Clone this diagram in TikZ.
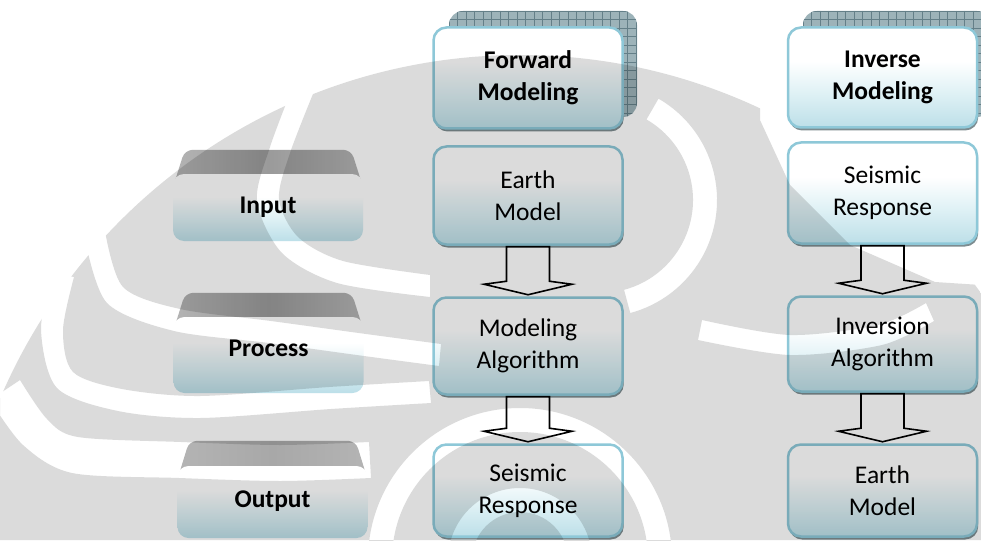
\documentclass[tikz,border=0pt]{standalone}
\usepackage{fontspec}
\setmainfont{Carlito}
\usetikzlibrary{calc,shadows,backgrounds}

\definecolor{boxblue}{HTML}{BCDFE8}
\definecolor{boxmid}{HTML}{DFF1F5}
\definecolor{boxedge}{HTML}{8EC8D8}
\definecolor{gridfill}{HTML}{9DB3B9}
\definecolor{gridline}{HTML}{647F88}
\definecolor{capgray}{HTML}{9A9A9A}
\definecolor{capedge}{HTML}{B4B4B4}
\definecolor{capgraylight}{HTML}{A8A8A8}
\definecolor{shadowgray}{HTML}{7D8C90}

% glossy white-to-blue fill used by all boxes
\pgfdeclareverticalshading{glassy}{100bp}{color(0bp)=(boxblue); color(25bp)=(boxblue); color(42bp)=(boxmid); color(58bp)=(white); color(100bp)=(white)}

\newcommand\boxfont{\fontsize{25.5}{32}\selectfont}

% outlined block arrow from the bottom of one box to the top of the next
\newcommand\blockarrow[2]{%
  \draw[blockarr] let \p1=(#1.south), \p2=(#2.north) in
    (\x1-21.5pt,\y1-1pt) -- (\x1-21.5pt,\y2+15pt) -- (\x1-44pt,\y2+12pt)
    -- (\x1,\y2+1.5pt) -- (\x1+44pt,\y2+12pt) -- (\x1+21.5pt,\y2+15pt)
    -- (\x1+21.5pt,\y1-1pt) -- cycle;}

\tikzset{
  colbox/.style={shade, shading=glassy, draw=boxedge, line width=2.5pt,
    rounded corners=13pt, minimum width=189pt, inner sep=0pt, align=center,
    font=\boxfont,
    general shadow={fill=shadowgray, shadow xshift=1.2pt, shadow yshift=-3pt}},
  headbox/.style={colbox, font=\boxfont\bfseries},
  backbox/.style={fill=gridfill, rounded corners=14pt, minimum width=188pt,
    minimum height=106pt, inner sep=0pt,
    path picture={
      \foreach \k in {0,...,24}{
        \draw[gridline, line width=0.6pt]
          ([xshift=\k*8.5pt]path picture bounding box.north west) --
          ([xshift=\k*8.5pt]path picture bounding box.south west);
        \draw[gridline, line width=0.6pt]
          ([yshift=-\k*8.5pt]path picture bounding box.north west) --
          ([yshift=-\k*8.5pt]path picture bounding box.north east);
      }}},
  capface/.style={shade, shading=glassy, rounded corners=11pt, inner sep=0pt,
    minimum width=190pt, font=\boxfont\bfseries},
  blockarr/.style={draw=black, fill=white, line width=1.6pt, line join=miter},
  watermark/.style={fill=black, opacity=0.14, even odd rule}
}

\begin{document}
\begin{tikzpicture}[x=1pt,y=-1pt]
\useasboundingbox (0,0) rectangle (981,540);

% gridded backing plates behind the column headers
\node[backbox] (fwdback) at (543,64) {};
\node[backbox] (invback) at (897,64) {};

% column headers
\node[headbox, minimum height=101pt] (fwd) at (528,78) {Forward\\Modeling};
\node[headbox, minimum height=100pt] (inv) at (882.5,77.5) {Inverse\\Modeling};

% forward modeling column
\node[colbox, minimum height=98pt] (em1) at (528,195.5) {Earth\\Model};
\node[colbox, minimum height=97pt] (ma1) at (528,346) {Modeling\\Algorithm};
\node[colbox, minimum height=92pt] (sr1) at (528,490.5) {Seismic\\Response};

% inverse modeling column
\node[colbox, minimum height=101pt] (sr2) at (882.5,193) {Seismic\\Response};
\node[colbox, minimum height=95pt] (ia2) at (882.5,344) {Inversion\\Algorithm};
\node[colbox, minimum height=92pt] (em2) at (882.5,490.5) {Earth\\Model};

% row labels drawn as key caps
\node[capface, minimum height=67pt] (in) at (268,207.5) {\raisebox{2pt}{Input}};
\node[capface, minimum height=76pt] (pr) at (268.5,355) {\raisebox{14pt}{Process}};
\node[capface, minimum height=72pt] (out) at (272.5,502) {\raisebox{5pt}{Output}};

% paper and the slanted top faces of the key caps
\begin{scope}[on background layer]
  \fill[white] (0,0) rectangle (981,540);
  \foreach \c/\top/\h in {in/capgray/24pt, pr/capgray/24pt, out/capgraylight/25pt}{
    \path[left color=capedge, right color=capedge, middle color=\top, rounded corners=8pt]
      ([yshift=-14pt]\c.north west) -- ([xshift=12pt,yshift=\h]\c.north west)
      -- ([xshift=-12pt,yshift=\h]\c.north east) -- ([yshift=-14pt]\c.north east) -- cycle;
  }
\end{scope}

% flow arrows
\blockarrow{em1}{ma1}
\blockarrow{ma1}{sr1}
\blockarrow{sr2}{ia2}
\blockarrow{ia2}{em2}

% faint emblem watermark laid over the whole sheet: a disc with light bands cut out
\begin{scope}
  \clip (0,0) rectangle (981,540);
  \clip (520,620) circle[radius=565];
  \fill[watermark]
    (0,0) rectangle (981,540)
    (760,0) -- (981,0) -- (981,285) -- (935,282) -- (850,245) -- (790,185) -- (760,120) -- cycle
    plot[smooth] coordinates {(315,89) (290,153) (279,199) (298,237) (343,261) (430,275)}
      -- plot[smooth] coordinates {(430,297) (337,283) (282,253) (257,201) (270,147) (295,81)} -- cycle
    plot[smooth] coordinates {(105,231) (123,287) (180,309) (271,321) (366,334) (441,344)}
      -- plot[smooth] coordinates {(439,366) (364,356) (269,343) (174,331) (107,303) (85,239)} -- cycle
    plot[smooth] coordinates {(74,277) (63,330) (73,372) (122,389) (200,396) (329,387) (429,381)}
      -- plot[smooth] coordinates {(431,403) (331,409) (200,418) (118,411) (57,388) (41,330) (52,273)} -- cycle
    plot[smooth] coordinates {(20,380) (47,419) (78,437) (181,442) (280,445) (369,442)}
      -- plot[smooth] coordinates {(371,478) (280,481) (179,478) (72,473) (23,445) (-10,400)} -- cycle
    plot[smooth] coordinates {(702,320) (790,335) (878,325) (926,303)}
      -- plot[smooth] coordinates {(934,321) (882,345) (790,355) (698,340)} -- cycle
    ($(600,200)+(-60:117)$) arc[start angle=-60, end angle=75, radius=117]
      -- ($(600,200)+(75:93)$) arc[start angle=75, end angle=-60, radius=93] -- cycle
    ($(520,560)+(180:72)$) arc[start angle=180, end angle=360, radius=72]
      -- ($(520,560)+(0:48)$) arc[start angle=360, end angle=180, radius=48] -- cycle
    ($(520,560)+(180:152)$) arc[start angle=180, end angle=360, radius=152]
      -- ($(520,560)+(0:128)$) arc[start angle=360, end angle=180, radius=128] -- cycle;
\end{scope}
\end{tikzpicture}
\end{document}
